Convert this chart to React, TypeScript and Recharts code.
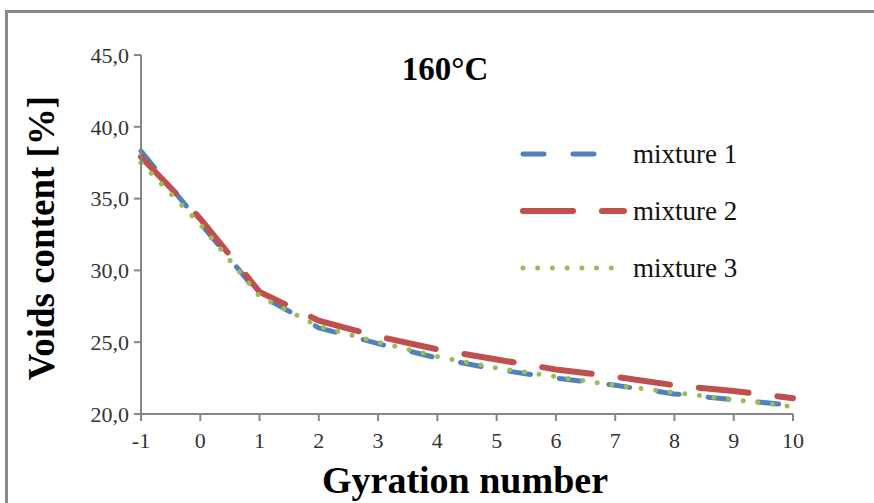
import { LineChart, Line, XAxis, YAxis } from 'recharts';

const gyrations = [-1, 0, 1, 2, 3, 4, 5, 6, 7, 8, 9, 10];
const mixture1 = [38.3, 33.3, 28.3, 26.0, 24.9, 23.9, 23.1, 22.5, 22.0, 21.4, 21.0, 20.6];
const mixture2 = [37.9, 33.6, 28.5, 26.5, 25.4, 24.5, 23.8, 23.1, 22.6, 22.0, 21.6, 21.1];
const mixture3 = [37.5, 33.2, 28.2, 26.1, 25.0, 24.0, 23.2, 22.6, 22.0, 21.5, 21.0, 20.5];
const yTicks = [20, 25, 30, 35, 40, 45];

const data = gyrations.map((g, i) => ({
  g,
  m1: mixture1[i],
  m2: mixture2[i],
  m3: mixture3[i],
}));

const FONT = '"Liberation Serif", "Times New Roman", serif';
const AXIS = '#868686';

const series = [
  { key: 'm1', name: 'mixture 1', color: '#4F81BD', width: 5, dash: '21 29' },
  { key: 'm2', name: 'mixture 2', color: '#C0504D', width: 6, dash: '50 29' },
  { key: 'm3', name: 'mixture 3', color: '#9BBB59', width: 5, dash: '0.01 14.7' },
];

// legend drawn inside the plot, like the spreadsheet original
const LegendBox = ({ x, y }: { x: number; y: number }) => (
  <g transform={`translate(${x} ${y})`}>
    {series.map((s, i) => {
      const cy = i * 57;
      return (
        <g key={s.key}>
          <line
            x1={5}
            x2={s.key === 'm3' ? 95 : s.key === 'm2' ? 106 : 82}
            y1={cy}
            y2={cy}
            stroke={s.color}
            strokeWidth={s.width}
            strokeDasharray={s.dash}
            strokeLinecap="round"
          />
          <text
            x={115}
            y={cy}
            dominantBaseline="central"
            fontFamily={FONT}
            fontSize={27}
            fill="#111"
          >
            {s.name}
          </text>
        </g>
      );
    })}
  </g>
);

export default function App() {
  return (
    <div
      style={{
        position: 'absolute',
        left: 0,
        top: 0,
        width: 874,
        height: 503,
        overflow: 'hidden',
        background: '#fff',
      }}
    >
      <div
        style={{
          position: 'absolute',
          left: 5,
          top: 10,
          width: 900,
          height: 600,
          border: '3px solid #8a8a8a',
        }}
      />
      <LineChart
        width={874}
        height={503}
        data={data}
        margin={{ top: 55, right: 81, bottom: 59, left: 81 }}
        style={{ position: 'absolute', left: 0, top: 0 }}
      >
        <XAxis
          dataKey="g"
          type="number"
          domain={[-1, 10]}
          ticks={gyrations}
          height={30}
          stroke={AXIS}
          strokeWidth={2}
          tickSize={7}
          tickMargin={11}
          tick={{ fill: '#333', fontFamily: FONT, fontSize: 22 }}
        />
        <YAxis
          type="number"
          domain={[20, 45]}
          ticks={yTicks}
          width={60}
          stroke={AXIS}
          strokeWidth={2}
          tickSize={7}
          tickMargin={5}
          tickFormatter={(v: number) => v.toFixed(1).replace('.', ',')}
          tick={{ fill: '#333', fontFamily: FONT, fontSize: 22 }}
        />
        {series.map((s) => (
          <Line
            key={s.key}
            type="linear"
            dataKey={s.key}
            name={s.name}
            stroke={s.color}
            strokeWidth={s.width}
            strokeDasharray={s.dash}
            strokeLinecap="round"
            dot={false}
            activeDot={false}
            isAnimationActive={false}
          />
        ))}
        <LegendBox x={518} y={154} />
        <text
          x={445}
          y={80}
          textAnchor="middle"
          fontFamily={FONT}
          fontWeight="bold"
          fontSize={33}
          fill="#000"
        >
          160°C
        </text>
        <text
          x={465}
          y={493}
          textAnchor="middle"
          fontFamily={FONT}
          fontWeight="bold"
          fontSize={38}
          fill="#000"
        >
          Gyration number
        </text>
        <text
          x={54}
          y={238}
          textAnchor="middle"
          transform="rotate(-90 54 238)"
          fontFamily={FONT}
          fontWeight="bold"
          fontSize={37}
          fill="#000"
        >
          Voids content [%]
        </text>
      </LineChart>
    </div>
  );
}
